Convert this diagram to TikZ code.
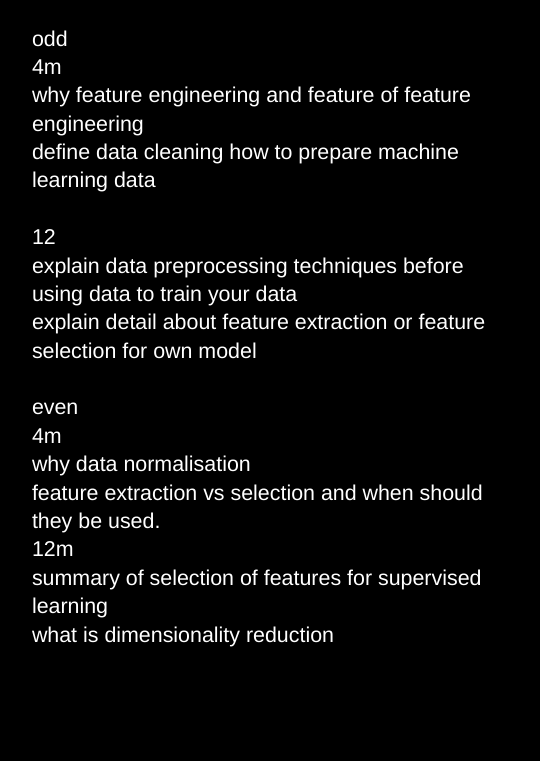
\documentclass[tikz,border=0pt]{standalone}
\usepackage{fontspec}
\setmainfont{Liberation Sans}
\begin{document}
\begin{tikzpicture}[x=1pt,y=-1pt,
  ln/.style={anchor=base west,inner sep=0pt,outer sep=0pt,text=white,font=\fontsize{21.4}{28.4}\selectfont}]
\fill[black] (0,0) rectangle (540,761);
\useasboundingbox (0,0) rectangle (540,761);
\def\lx{32}
\node[ln] (l0) at (\lx,46) {odd};
\node[ln] (l1) at (\lx,74.4) {4m};
\node[ln] (l2) at (\lx,102.8) {why feature engineering and feature of feature};
\node[ln] (l3) at (\lx,131.1) {engineering};
\node[ln] (l4) at (\lx,159.5) {define data cleaning how to prepare machine};
\node[ln] (l5) at (\lx,187.9) {learning data};
\node[ln] (l7) at (\lx,244.7) {12};
\node[ln] (l8) at (\lx,273.0) {explain data preprocessing techniques before};
\node[ln] (l9) at (\lx,301.4) {using data to train your data};
\node[ln] (l10) at (\lx,329.8) {explain detail about feature extraction or feature};
\node[ln] (l11) at (\lx,358.2) {selection for own model};
\node[ln] (l13) at (\lx,414.9) {even};
\node[ln] (l14) at (\lx,443.3) {4m};
\node[ln] (l15) at (\lx,471.7) {why data normalisation};
\node[ln] (l16) at (\lx,500.1) {feature extraction vs selection and when should};
\node[ln] (l17) at (\lx,528.5) {they be used.};
\node[ln] (l18) at (\lx,556.8) {12m};
\node[ln] (l19) at (\lx,585.2) {summary of selection of features for supervised};
\node[ln] (l20) at (\lx,613.6) {learning};
\node[ln] (l21) at (\lx,642.0) {what is dimensionality reduction};
\end{tikzpicture}
\end{document}
